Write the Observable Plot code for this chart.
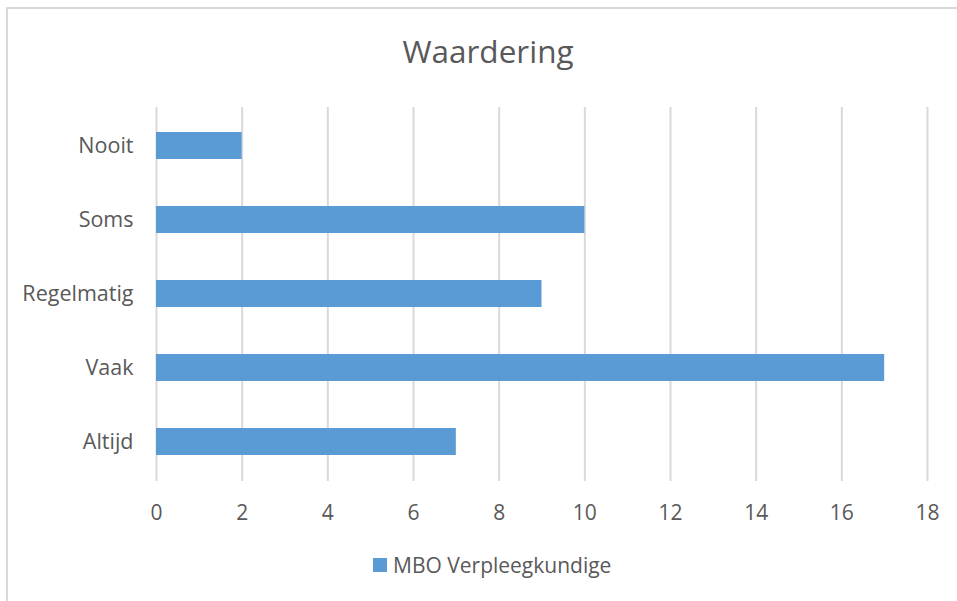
<!DOCTYPE html>
<html>
<head>
<meta charset="utf-8">
<script src="https://cdn.jsdelivr.net/npm/d3@7"></script>
<script src="https://cdn.jsdelivr.net/npm/@observablehq/plot@0.6"></script>
<style>
  html, body { margin: 0; padding: 0; background: #fff; }
  #wrap { position: relative; width: 957px; height: 601px; overflow: hidden; font-family: "Open Sans", sans-serif; color: #595959; }
  #frame { position: absolute; left: 6px; top: 7px; width: 1000px; height: 700px; border-left: 2px solid #d9d9d9; border-top: 2px solid #d9d9d9; }
  #title { position: absolute; left: 0; width: 976px; top: 29px; text-align: center; font-size: 31.5px; line-height: 44px; }
  #chart { position: absolute; left: 0; top: 80px; }
  #legend { position: absolute; left: 373px; top: 550px; font-size: 21px; line-height: 30px; display: flex; align-items: center; }
  #legend .sw { width: 14px; height: 14px; background: #5b9bd5; margin-right: 6px; }
</style>
</head>
<body>
<div id="wrap">
  <div id="frame"></div>
  <div id="title">Waardering</div>
  <div id="chart"></div>
  <div id="legend"><span class="sw"></span><span>MBO Verpleegkundige</span></div>
</div>
<script>
const categories = ["Nooit", "Soms", "Regelmatig", "Vaak", "Altijd"];
const values = [2, 10, 9, 17, 7];
const xTicks = [0, 2, 4, 6, 8, 10, 12, 14, 16, 18];
const seriesName = "MBO Verpleegkundige";

const data = categories.map((c, i) => ({category: c, value: values[i], series: seriesName}));

const plot = Plot.plot({
  width: 957,
  height: 460,
  marginLeft: 156,
  marginRight: 30,
  marginTop: 27,
  marginBottom: 59,
  style: {fontFamily: "'Open Sans', sans-serif", fontSize: "22px", color: "#595959", background: "transparent"},
  x: {domain: [0, 18], ticks: xTicks, label: null},
  y: {domain: categories, paddingInner: 0.635, paddingOuter: 0.3175, label: null},
  marks: [
    Plot.gridX(xTicks, {stroke: "#d9d9d9", strokeOpacity: 1, strokeWidth: 2}),
    Plot.barX(data, {x: "value", y: "category", fill: "#5b9bd5"}),
    Plot.axisX({ticks: xTicks, tickSize: 0, tickPadding: 24, fontSize: 21, fill: "#595959", label: null}),
    Plot.axisY({tickSize: 0, tickPadding: 23, fontSize: 21.5, fill: "#595959", label: null})
  ]
});
document.getElementById("chart").appendChild(plot);
</script>
</body>
</html>
